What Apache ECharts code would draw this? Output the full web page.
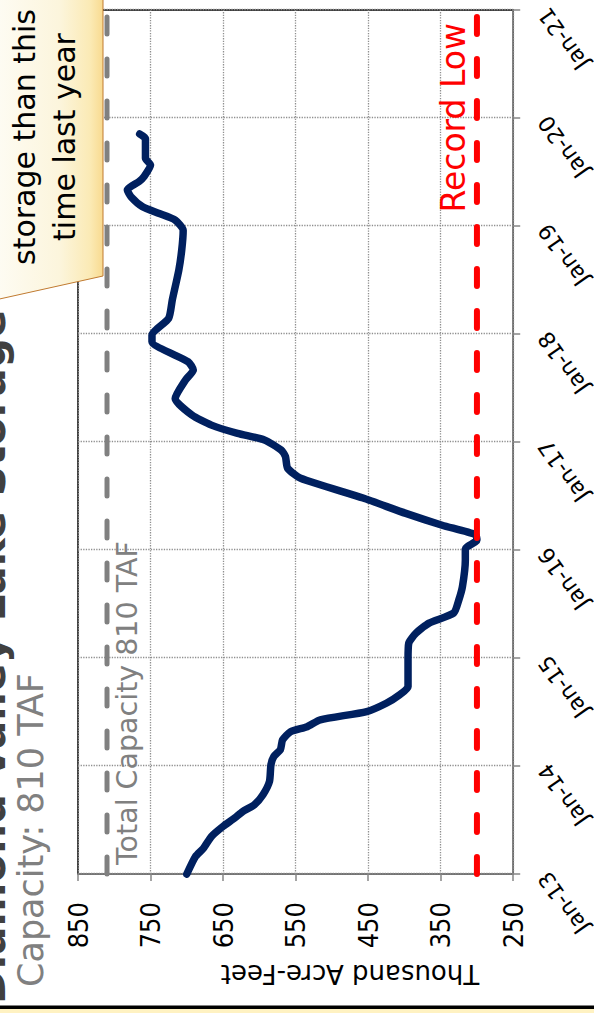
<!DOCTYPE html>
<html><head><meta charset="utf-8">
<script src="https://cdn.jsdelivr.net/npm/echarts@6/dist/echarts.min.js"></script>
<style>
html,body{margin:0;padding:0;background:#fff;overflow:hidden;width:594px;height:1013px;}
#wrap{position:absolute;left:0;top:0;width:1013px;height:594px;transform-origin:0 0;transform:translateY(1013px) rotate(-90deg);}
#chart{width:1013px;height:594px;}
</style></head><body>
<div id="wrap"><div id="chart"></div></div>
<script>
// ---- data ----
const storageDates = [
 '2013-01-01','2013-03-01','2013-03-29','2013-05-08','2013-06-11','2013-07-09','2013-07-31','2013-08-23','2013-09-26','2013-11-10',
 '2014-01-05','2014-02-02','2014-02-25','2014-03-30','2014-04-27','2014-05-14','2014-06-06','2014-07-04','2014-08-01','2014-08-29',
 '2014-09-26','2014-12-26','2015-02-20','2015-03-26','2015-04-29','2015-06-02','2015-07-16','2015-08-30','2015-11-28','2016-01-05',
 '2016-02-04','2016-02-22','2016-03-25','2016-05-04','2016-06-25','2016-08-31','2016-10-04','2016-11-13','2016-12-05','2017-01-08',
 '2017-01-30','2017-02-27','2017-04-02','2017-05-28','2017-07-29','2017-09-01','2017-09-29','2017-12-06','2017-12-28','2018-02-23',
 '2018-04-26','2018-08-05','2018-10-12','2018-12-17','2019-01-21','2019-02-13','2019-03-07','2019-04-10','2019-05-03','2019-05-31',
 '2019-06-17','2019-07-26','2019-08-18','2019-09-26','2019-10-24','2019-11-08'
];
const storageValues = [
 700,688,677,666,650,634,623,607,595,586,
 584,580,571,568,557,534,516,452,425,407,
 395,395,394,384,366,332,325,320,316,316,
 300,302,348,398,457,543,561,564,570,593,
 630,666,693,716,702,691,698,748,748,725,
 720,711,707,705,716,739,761,777,782,766,
 759,750,757,757,757,765
];
const yearTicks = [2013,2014,2015,2016,2017,2018,2019,2020,2021];
const yearTickLabels = ['Jan-13','Jan-14','Jan-15','Jan-16','Jan-17','Jan-18','Jan-19','Jan-20','Jan-21'];
const valueTicks = [250,350,450,550,650,750,850];
const TOTAL_CAPACITY = 810;
const RECORD_LOW = 300;

function toYear(s){
  const d = Date.parse(s + 'T00:00:00Z');
  const y = new Date(d).getUTCFullYear();
  const a = Date.UTC(y,0,1), b = Date.UTC(y+1,0,1);
  return y + (d - a) / (b - a);
}
const storageData = storageDates.map((d,i)=>[toYear(d), storageValues[i]]);
const xMin = yearTicks[0], xMax = yearTicks[yearTicks.length-1];

const FONT = "'DejaVu Sans', sans-serif";
const chart = echarts.init(document.getElementById('chart'), null, {renderer:'svg', width:1013, height:594});
chart.setOption({
  animation:false,
  backgroundColor:'#ffffff',
  grid:{left:139,right:10,top:78,bottom:76,show:true,borderColor:'#000',borderWidth:1.5,backgroundColor:'transparent'},
  xAxis:{type:'value',min:xMin,max:xMax,interval:1,
    axisLine:{show:true,onZero:false,lineStyle:{color:'#868686',width:1.5}},
    axisTick:{show:true,length:7,lineStyle:{color:'#868686',width:1.5}},
    axisLabel:{rotate:35,margin:30,fontSize:22,color:'#000',fontFamily:FONT,showMinLabel:true,showMaxLabel:true,
      formatter:v=>{const i=yearTicks.indexOf(Math.round(v));return i>=0?yearTickLabels[i]:'';}},
    splitLine:{show:true,lineStyle:{type:'dotted',color:'#8f8f8f',width:1.3}}},
  yAxis:{type:'value',min:valueTicks[0],max:valueTicks[valueTicks.length-1],interval:100,
    axisLine:{show:true,onZero:false,lineStyle:{color:'#868686',width:1.5}},
    axisTick:{show:true,length:7,lineStyle:{color:'#868686',width:1.5}},
    axisLabel:{margin:28,fontSize:27,color:'#000',fontFamily:"'Liberation Sans Narrow','DejaVu Sans Condensed',sans-serif"},
    splitLine:{show:true,lineStyle:{type:'dotted',color:'#8f8f8f',width:1.3}}},
  series:[
    {type:'line',name:'Storage',data:storageData,symbol:'none',smooth:0.2,z:3,
      lineStyle:{color:'#00205F',width:7.5,cap:'round',join:'round'}},
    {type:'line',name:'Total Capacity',data:[[xMin,TOTAL_CAPACITY],[xMax,TOTAL_CAPACITY]],symbol:'none',z:4,
      lineStyle:{color:'#808080',width:5,type:[17,25],cap:'round'}},
    {type:'line',name:'Record Low',data:[[xMin,RECORD_LOW],[xMax,RECORD_LOW]],symbol:'none',z:4,
      lineStyle:{color:'#FF0000',width:6,type:[17,25],cap:'round'}}
  ],
  graphic:[
    {type:'rect',z:100,shape:{x:0,y:0,width:4,height:594},style:{fill:'#FFF2C2'}},
    {type:'rect',z:100,shape:{x:4,y:0,width:3.5,height:594},style:{fill:'#000'}},
    {type:'text',z:100,x:9,y:-10,style:{text:'Diamond Valley Lake Storage',fill:'#404040',font:"bold 42px 'DejaVu Sans'",textAlign:'left',align:'left',textVerticalAlign:'middle',verticalAlign:'middle'}},
    {type:'text',z:100,x:26,y:31,style:{text:'Capacity: 810 TAF',fill:'#808080',font:"35px 'DejaVu Sans'",textAlign:'left',align:'left',textVerticalAlign:'middle',verticalAlign:'middle'}},
    {type:'polygon',z:100,shape:{points:[[713,-5],[1020,-5],[1020,103],[737,103]]},
      style:{fill:{type:'linear',x:0,y:0,x2:0,y2:1,colorStops:[{offset:0,color:'#FEFCF4'},{offset:0.6,color:'#FCF5DC'},{offset:0.88,color:'#FBEAB5'},{offset:1,color:'#F8DA90'}]},stroke:'#C07A30',lineWidth:1}},
    {type:'text',z:101,x:876,y:24.5,style:{text:'storage than this',fill:'#000',font:"30px 'DejaVu Sans'",textAlign:'center',align:'center',textVerticalAlign:'middle',verticalAlign:'middle'}},
    {type:'text',z:101,x:876,y:64.5,style:{text:'time last year',fill:'#000',font:"30px 'DejaVu Sans'",textAlign:'center',align:'center',textVerticalAlign:'middle',verticalAlign:'middle'}},
    {type:'text',z:100,x:148,y:127,style:{text:'Total Capacity 810 TAF',fill:'#808080',font:"28.5px 'DejaVu Sans'",textAlign:'left',align:'left',textVerticalAlign:'middle',verticalAlign:'middle'}},
    {type:'text',z:100,x:990,y:453.5,style:{text:'Record Low',fill:'#FF0000',font:"33px 'DejaVu Sans'",textAlign:'right',align:'right',textVerticalAlign:'middle',verticalAlign:'middle'}},
    {type:'text',z:100,x:39,y:350,rotation:Math.PI/2,style:{text:'Thousand Acre-Feet',fill:'#000',font:"26px 'DejaVu Sans'",textAlign:'center',align:'center',textVerticalAlign:'middle',verticalAlign:'middle'}}
  ]
});
</script>
</body></html>
